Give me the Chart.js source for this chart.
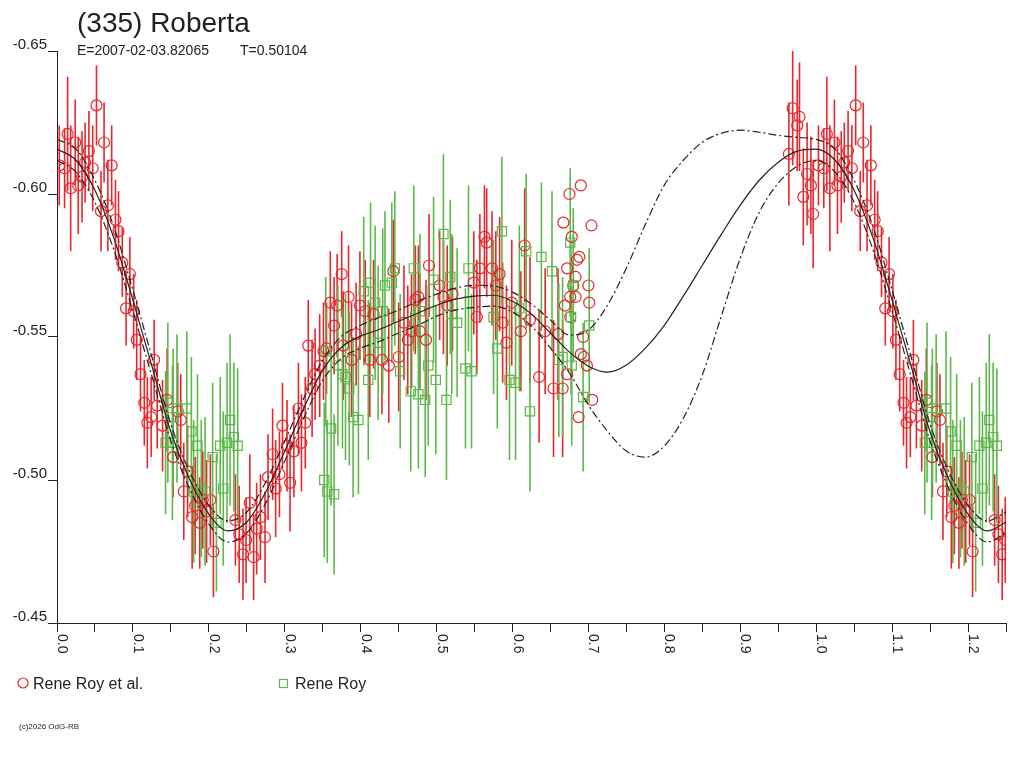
<!DOCTYPE html>
<html>
<head>
<meta charset="utf-8">
<title>(335) Roberta</title>
<script src="https://cdn.jsdelivr.net/npm/chart.js@4.4.1/dist/chart.umd.min.js"></script>
<style>
  html, body { margin: 0; padding: 0; background: #fff; }
  canvas { display: block; }
</style>
</head>
<body>
<canvas id="lc" width="1024" height="768"></canvas>
<script>
// Header texts
const titleText = "(335) Roberta";
const epochText = "E=2007-02-03.82065";
const periodText = "T=0.50104";
const legendRed = "Rene Roy et al.";
const legendGreen = "Rene Roy";
const copyText = "(c)2026 OdG-RB";

// Ticks
const xTicks = [0.0, 0.1, 0.2, 0.3, 0.4, 0.5, 0.6, 0.7, 0.8, 0.9, 1.0, 1.1, 1.2];
const yTicks = [-0.65, -0.60, -0.55, -0.50, -0.45];

// Rene Roy et al. (phase, mag, error)
const redPhase = [0.003,0.010,0.014,0.018,0.024,0.028,0.033,0.037,0.042,0.047,
  0.052,0.062,0.072,0.058,0.067,0.077,0.081,0.086,0.096,0.091,
  0.101,0.105,0.110,0.128,0.115,0.119,0.124,0.132,0.139,0.145,
  0.159,0.163,0.153,0.172,0.167,0.178,0.188,0.192,0.202,0.197,
  0.206,0.182,0.235,0.240,0.249,0.245,0.259,0.254,0.263,0.268,
  0.274,0.278,0.284,0.288,0.293,0.297,0.303,0.307,0.312,0.318,
  0.322,0.327,0.331,0.336,0.340,0.346,0.351,0.355,0.360,0.365,
  0.369,0.375,0.384,0.377,0.394,0.388,0.399,0.406,0.417,0.412,
  0.428,0.437,0.450,0.443,0.457,0.462,0.467,0.472,0.476,0.478,
  0.486,0.490,0.504,0.509,0.521,0.514,0.549,0.553,0.557,0.563,
  0.566,0.573,0.578,0.583,0.587,0.592,0.599,0.611,0.616,0.623,
  0.635,0.643,0.654,0.660,0.666,0.672,0.669,0.672,0.676,0.678,
  0.667,0.683,0.680,0.685,0.688,0.683,0.676,0.700,0.701,0.704,
  0.690,0.675,0.693,0.690,0.694,0.698,0.705,0.687,
  0.964,0.969,0.975,0.978,0.983,0.988,0.993,0.996];
const redMag = [-0.610,-0.609,-0.621,-0.602,-0.618,-0.603,-0.606,-0.611,-0.615,-0.609,
  -0.631,-0.618,-0.610,-0.594,-0.596,-0.591,-0.587,-0.576,-0.572,-0.560,
  -0.559,-0.549,-0.537,-0.542,-0.527,-0.520,-0.522,-0.526,-0.519,-0.528,
  -0.524,-0.521,-0.508,-0.503,-0.496,-0.487,-0.485,-0.493,-0.493,-0.489,
  -0.475,-0.491,-0.486,-0.481,-0.479,-0.474,-0.473,-0.492,-0.483,-0.487,
  -0.480,-0.501,-0.509,-0.497,-0.502,-0.519,-0.512,-0.499,-0.510,-0.525,
  -0.513,-0.520,-0.547,-0.532,-0.537,-0.540,-0.545,-0.546,-0.562,-0.554,
  -0.561,-0.572,-0.564,-0.547,-0.551,-0.542,-0.561,-0.559,-0.558,-0.542,
  -0.542,-0.540,-0.543,-0.573,-0.555,-0.549,-0.552,-0.563,-0.564,-0.552,
  -0.549,-0.575,-0.568,-0.564,-0.565,-0.561,-0.569,-0.557,-0.574,-0.585,
  -0.583,-0.574,-0.568,-0.572,-0.555,-0.548,-0.562,-0.552,-0.582,-0.556,
  -0.536,-0.552,-0.532,-0.551,-0.532,-0.537,-0.561,-0.574,-0.557,-0.585,
  -0.590,-0.571,-0.568,-0.577,-0.578,-0.564,-0.564,-0.568,-0.562,-0.589,
  -0.603,-0.600,-0.550,-0.544,-0.543,-0.540,-0.528,-0.522,
  -0.614,-0.630,-0.624,-0.627,-0.599,-0.607,-0.603,-0.593];
const redErr = [0.014,0.014,0.020,0.022,0.015,0.017,0.016,0.014,0.014,0.015,
  0.014,0.014,0.014,0.014,0.016,0.014,0.014,0.012,0.013,0.013,
  0.013,0.014,0.013,0.014,0.015,0.016,0.014,0.015,0.016,0.018,
  0.017,0.016,0.014,0.016,0.017,0.018,0.016,0.017,0.016,0.018,
  0.016,0.017,0.016,0.017,0.015,0.016,0.015,0.017,0.016,0.015,
  0.016,0.015,0.016,0.017,0.015,0.015,0.016,0.017,0.016,0.016,
  0.017,0.016,0.016,0.017,0.016,0.018,0.017,0.016,0.018,0.017,
  0.018,0.015,0.018,0.019,0.018,0.020,0.019,0.018,0.019,0.020,
  0.019,0.020,0.019,0.018,0.020,0.019,0.020,0.019,0.018,0.020,
  0.021,0.018,0.019,0.020,0.020,0.021,0.018,0.020,0.019,0.018,
  0.019,0.020,0.019,0.020,0.021,0.020,0.022,0.021,0.020,0.022,
  0.023,0.022,0.024,0.023,0.024,0,0,0,0,0,
  0,0,0,0,0,0,0,0,0,0,
  0,0,0,0,0,0,0,0,
  0.018,0.020,0.016,0.019,0.017,0.018,0.017,0.019];

// Rene Roy (phase, mag, error)
const greenPhase = [0.146,0.158,0.171,0.153,0.177,0.143,0.152,0.185,0.205,0.215,
  0.224,0.228,0.233,0.238,0.190,0.195,0.180,0.219,0.210,0.352,
  0.356,0.365,0.354,0.361,0.370,0.376,0.380,0.385,0.390,0.397,
  0.410,0.423,0.404,0.413,0.419,0.429,0.432,0.441,0.445,0.470,
  0.452,0.466,0.476,0.485,0.489,0.499,0.513,0.478,0.496,0.509,
  0.518,0.520,0.527,0.538,0.546,0.542,0.575,0.580,0.586,0.596,
  0.604,0.609,0.618,0.623,0.638,0.652,0.661,0.666,0.676,0.677,
  0.678,0.680,0.693,0.701];
const greenMag = [-0.527,-0.525,-0.525,-0.522,-0.517,-0.513,-0.513,-0.512,-0.508,-0.512,
  -0.513,-0.521,-0.515,-0.512,-0.497,-0.496,-0.496,-0.497,-0.485,-0.500,
  -0.496,-0.495,-0.545,-0.518,-0.540,-0.537,-0.536,-0.532,-0.522,-0.521,
  -0.535,-0.548,-0.566,-0.569,-0.562,-0.559,-0.568,-0.569,-0.574,-0.574,
  -0.538,-0.531,-0.530,-0.528,-0.540,-0.535,-0.528,-0.559,-0.570,-0.586,
  -0.571,-0.558,-0.555,-0.539,-0.538,-0.574,-0.557,-0.546,-0.587,-0.535,
  -0.534,-0.560,-0.580,-0.524,-0.578,-0.573,-0.542,-0.543,-0.583,-0.557,
  -0.540,-0.568,-0.529,-0.554];
const greenErr = [0.028,0.026,0.027,0.024,0.026,0.025,0.027,0.025,0.026,0.024,
  0.028,0.030,0.026,0.027,0.024,0.026,0.025,0.027,0.024,0.027,
  0.025,0.028,0.026,0.027,0.028,0.026,0.029,0.027,0.028,0.026,
  0.028,0.027,0.026,0.028,0.027,0.029,0.026,0.028,0.027,0.029,
  0.027,0.028,0.026,0.027,0.028,0.026,0.028,0.027,0.029,0.028,
  0.027,0.028,0.026,0.028,0.027,0.029,0.027,0.028,0.026,0.028,
  0.027,0.029,0.027,0.028,0.026,0.028,0.027,0.028,0.026,0.027,
  0.028,0.027,0.026,0.027];

// Fourier fit and its two envelopes, read at 0.025 phase steps
const curvePhase = [0.000,0.025,0.050,0.075,0.100,0.125,0.150,0.175,0.200,0.225,
  0.250,0.275,0.300,0.325,0.350,0.375,0.400,0.425,0.450,0.475,
  0.500,0.525,0.550,0.575,0.600,0.625,0.650,0.675,0.700,0.725,
  0.750,0.775,0.800,0.825,0.850,0.875,0.900,0.925,0.950,0.975,
  1.000,1.025,1.050,1.075,1.100,1.125,1.150,1.175,1.200,1.225,1.250];
const fitMag = [-0.6157,-0.6118,-0.6013,-0.5845,-0.5629,-0.5398,-0.5168,-0.5000,-0.4881,-0.4822,
  -0.4853,-0.4958,-0.5101,-0.5251,-0.5384,-0.5465,-0.5503,-0.5527,-0.5555,-0.5583,
  -0.5611,-0.5632,-0.5643,-0.5646,-0.5625,-0.5580,-0.5514,-0.5447,-0.5398,-0.5377,
  -0.5402,-0.5461,-0.5541,-0.5643,-0.5751,-0.5859,-0.5961,-0.6048,-0.6111,-0.6150,
  -0.6157,-0.6118,-0.6013,-0.5845,-0.5629,-0.5398,-0.5168,-0.5000,-0.4881,-0.4822,-0.4853];
const upperMag = [-0.6191,-0.6157,-0.6048,-0.5884,-0.5664,-0.5430,-0.5195,-0.5028,-0.4912,-0.4857,
  -0.4888,-0.4993,-0.5136,-0.5286,-0.5419,-0.5503,-0.5541,-0.5569,-0.5594,-0.5625,
  -0.5650,-0.5671,-0.5681,-0.5678,-0.5657,-0.5615,-0.5559,-0.5507,-0.5524,-0.5611,
  -0.5741,-0.5894,-0.6031,-0.6118,-0.6181,-0.6212,-0.6223,-0.6216,-0.6205,-0.6198,
  -0.6191,-0.6157,-0.6048,-0.5884,-0.5664,-0.5430,-0.5195,-0.5028,-0.4912,-0.4857,-0.4888];
const lowerMag = [-0.6118,-0.6076,-0.5971,-0.5804,-0.5590,-0.5363,-0.5136,-0.4968,-0.4846,-0.4783,
  -0.4815,-0.4919,-0.5066,-0.5216,-0.5349,-0.5426,-0.5461,-0.5485,-0.5514,-0.5541,
  -0.5573,-0.5594,-0.5604,-0.5608,-0.5587,-0.5538,-0.5461,-0.5374,-0.5262,-0.5171,
  -0.5101,-0.5080,-0.5119,-0.5216,-0.5367,-0.5573,-0.5776,-0.5936,-0.6038,-0.6097,
  -0.6118,-0.6076,-0.5971,-0.5804,-0.5590,-0.5363,-0.5136,-0.4968,-0.4846,-0.4783,-0.4815];

const RED = "#e8262c";
const GREEN = "#5cb84a";
const INK = "#222222";
const FONT = '"Liberation Sans", Arial, sans-serif';

// phases below 0.25 are shown again one cycle later
function foldPoints(ph, mag, err) {
  const pts = [];
  ph.forEach((p, i) => {
    pts.push({ x: p, y: mag[i], e: err[i] });
    if (p + 1 <= 1.25) pts.push({ x: p + 1, y: mag[i], e: err[i] });
  });
  return pts;
}
function curve(mags) {
  return curvePhase.map((p, i) => ({ x: p, y: mags[i] }));
}

const redPts = foldPoints(redPhase, redMag, redErr);
const greenPts = foldPoints(greenPhase, greenMag, greenErr);

// Error bars under the markers
const errorBars = {
  id: "errorBars",
  beforeDatasetsDraw(chart) {
    const { ctx, scales: { x, y } } = chart;
    [[redPts, RED], [greenPts, GREEN]].forEach(([pts, col]) => {
      ctx.save();
      ctx.strokeStyle = col;
      ctx.lineWidth = 1.6;
      pts.forEach(p => {
        if (!p.e) return;
        const px = x.getPixelForValue(p.x);
        ctx.beginPath();
        ctx.moveTo(px, y.getPixelForValue(p.y - p.e));
        ctx.lineTo(px, y.getPixelForValue(p.y + p.e));
        ctx.stroke();
      });
      ctx.restore();
    });
  }
};

// Title, tick labels, legend
const texts = {
  id: "texts",
  afterDraw(chart) {
    const { ctx, scales: { x, y } } = chart;
    ctx.save();
    ctx.fillStyle = INK;
    ctx.textBaseline = "alphabetic";
    ctx.font = "28px " + FONT;
    ctx.fillText(titleText, 77, 32);
    ctx.font = "14px " + FONT;
    ctx.fillText(epochText, 77, 55);
    ctx.fillText(periodText, 240, 55);

    ctx.font = "15px " + FONT;
    ctx.textAlign = "right";
    yTicks.forEach(v => ctx.fillText(v.toFixed(2), 47, y.getPixelForValue(v) - 2));

    ctx.font = "14px " + FONT;
    ctx.textAlign = "left";
    xTicks.forEach(v => {
      ctx.save();
      ctx.translate(x.getPixelForValue(v) + 1, 634);
      ctx.rotate(Math.PI / 2);
      ctx.fillText(v.toFixed(1), 0, 0);
      ctx.restore();
    });

    // legend
    ctx.lineWidth = 1.2;
    ctx.strokeStyle = RED;
    ctx.beginPath();
    ctx.arc(23, 683, 5, 0, Math.PI * 2);
    ctx.stroke();
    ctx.strokeStyle = GREEN;
    ctx.strokeRect(279.5, 679.5, 8, 8);
    ctx.font = "16px " + FONT;
    ctx.fillText(legendRed, 33, 689);
    ctx.fillText(legendGreen, 295, 689);

    ctx.font = "8px " + FONT;
    ctx.fillText(copyText, 19, 729);
    ctx.restore();
  }
};

const envStyle = { borderDash: [8, 3, 2, 3], borderWidth: 1.2 };

new Chart(document.getElementById("lc"), {
  type: "scatter",
  data: {
    datasets: [
      { label: "fit", data: curve(fitMag), showLine: true, pointRadius: 0,
        borderColor: INK, borderWidth: 1.2, cubicInterpolationMode: "monotone" },
      Object.assign({ label: "upper", data: curve(upperMag), showLine: true, pointRadius: 0,
        borderColor: INK, cubicInterpolationMode: "monotone" }, envStyle),
      Object.assign({ label: "lower", data: curve(lowerMag), showLine: true, pointRadius: 0,
        borderColor: INK, cubicInterpolationMode: "monotone" }, envStyle),
      { label: legendGreen, data: greenPts, pointStyle: "rect", pointRadius: 6.5,
        borderColor: GREEN, backgroundColor: "rgba(0,0,0,0)", borderWidth: 1.2 },
      { label: legendRed, data: redPts, pointStyle: "circle", pointRadius: 5.5,
        borderColor: RED, backgroundColor: "rgba(0,0,0,0)", borderWidth: 1.2 }
    ]
  },
  options: {
    responsive: false,
    animation: false,
    devicePixelRatio: 1,
    layout: { padding: { top: 51, right: 18, left: 0, bottom: 0 } },
    plugins: { legend: { display: false }, tooltip: { enabled: false } },
    scales: {
      x: {
        type: "linear", min: 0, max: 1.25,
        ticks: { display: false, stepSize: 0.05 },
        grid: { drawOnChartArea: false, drawTicks: true, tickLength: 9, color: INK },
        border: { display: true, color: INK, width: 1 },
        afterFit: s => { s.height = 145; }
      },
      y: {
        type: "linear", min: -0.65, max: -0.45, reverse: true,
        ticks: { display: false, stepSize: 0.05 },
        grid: { drawOnChartArea: false, drawTicks: true, tickLength: 9, color: INK },
        border: { display: true, color: INK, width: 1 },
        afterFit: s => { s.width = 57; }
      }
    }
  },
  plugins: [errorBars, texts]
});
</script>
</body>
</html>
